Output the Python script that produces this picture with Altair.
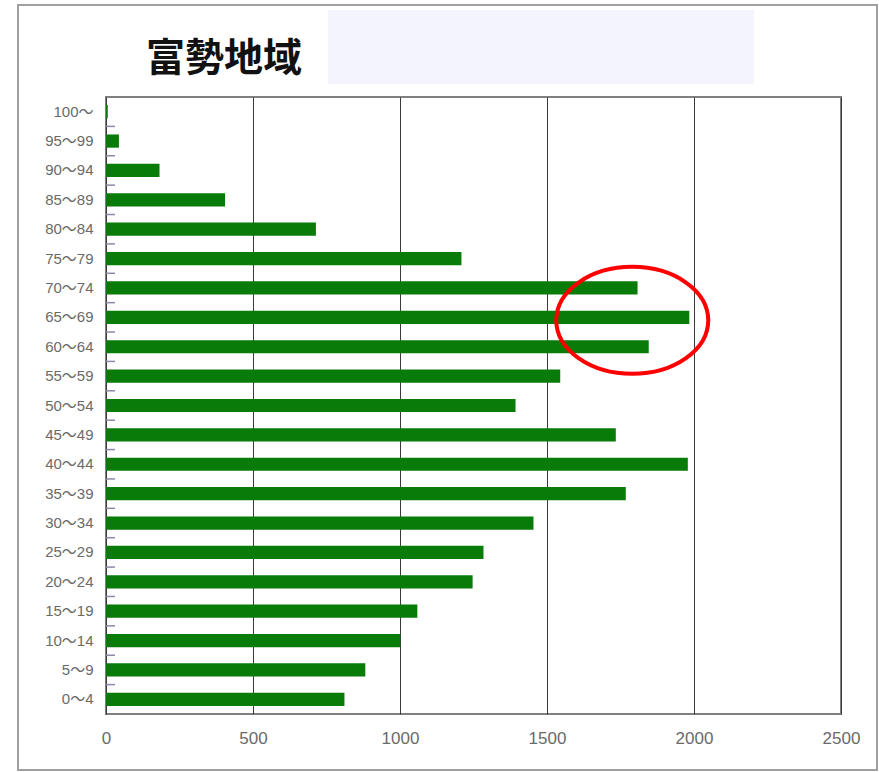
import altair as alt
import pandas as pd

# ---- data ----
title_text = "富勢地域"
ages = ["0〜4", "5〜9", "10〜14", "15〜19", "20〜24", "25〜29", "30〜34",
        "35〜39", "40〜44", "45〜49", "50〜54", "55〜59", "60〜64", "65〜69",
        "70〜74", "75〜79", "80〜84", "85〜89", "90〜94", "95〜99", "100〜"]
population = [811, 882, 1001, 1059, 1247, 1284, 1454,
              1768, 1979, 1734, 1393, 1545, 1846, 1984,
              1808, 1209, 714, 405, 182, 44, 6]
x_ticks = [0, 500, 1000, 1500, 2000, 2500]
highlight_age = ["65〜69"]
highlight_x = [1790]

order = list(reversed(ages))  # top to bottom
df = pd.DataFrame({"age": ages, "pop": population})
df_ticks = pd.DataFrame({"age": [a for a in ages if a != order[0]]})
df_hl = pd.DataFrame({"age": highlight_age, "pop": highlight_x})
df_title = pd.DataFrame({"t": [title_text]})
one = pd.DataFrame({"k": [0]})

FONT = "'Noto Sans CJK JP', sans-serif"
LABEL_FONT = "'Liberation Sans', 'Noto Sans CJK JP', sans-serif"

xscale = alt.Scale(domain=[0, 2500], nice=False)

frame = alt.Chart(one).mark_rect(fill="transparent", stroke="#a0a0a0", strokeWidth=2).encode(
    x=alt.value(-88), x2=alt.value(771), y=alt.value(-92), y2=alt.value(673))

box = alt.Chart(one).mark_rect(fill="#f4f4fc").encode(
    x=alt.value(222), x2=alt.value(648), y=alt.value(-87), y2=alt.value(-13))

title = alt.Chart(df_title).mark_text(
    font=FONT, fontSize=39, fontWeight="bold", color="#111111",
    align="left", baseline="middle").encode(
    text="t:N", x=alt.value(40), y=alt.value(-38))

bars = alt.Chart(df).mark_bar(color="#087b08").encode(
    x=alt.X("pop:Q", scale=xscale,
            axis=alt.Axis(values=x_ticks, format="d", grid=True, gridColor="#3a3a3a",
                          gridWidth=1, domain=False, ticks=False, labelPadding=16,
                          labelFlush=False, labelFontSize=17, labelColor="#6a6a6a",
                          labelFont=LABEL_FONT, title=None)),
    y=alt.Y("age:N", sort=order,
            scale=alt.Scale(domain=order, paddingInner=0.55, paddingOuter=0.275),
            axis=alt.Axis(domain=False, ticks=False, grid=False, labelPadding=13,
                          labelFontSize=15, labelColor="#6a6a6a", labelFont=LABEL_FONT,
                          title=None)),
)

ticks = alt.Chart(df_ticks).mark_rule(color="#8a8aa8", strokeWidth=1.5).encode(
    y=alt.Y("age:N", sort=order, bandPosition=0,
            scale=alt.Scale(domain=order, paddingInner=0, paddingOuter=0),
            axis=None),
    x=alt.value(0), x2=alt.value(9),
)

ellipse_path = "M -1 0 A 1 0.704 0 1 1 1 0 A 1 0.704 0 1 1 -1 0 Z"
ellipse = alt.Chart(df_hl).mark_point(
    shape=ellipse_path, size=23104, filled=False, stroke="#ff0000",
    strokeWidth=4, opacity=1).encode(
    x=alt.X("pop:Q", scale=xscale),
    y=alt.Y("age:N", sort=order,
            scale=alt.Scale(domain=order, paddingInner=0.55, paddingOuter=0.275),
            axis=None),
    yOffset=alt.value(3),
)

chart = alt.layer(frame, box, title, bars, ticks, ellipse).resolve_scale(
    y="independent"
).properties(
    width=735, height=617,
    autosize=alt.AutoSizeParams(type="none"),
    padding={"left": 106, "top": 97, "right": 38, "bottom": 58},
    background="white",
).configure_view(stroke="#808080", strokeWidth=2)

chart.save("out.html", embed_options={"renderer": "svg", "actions": False})
